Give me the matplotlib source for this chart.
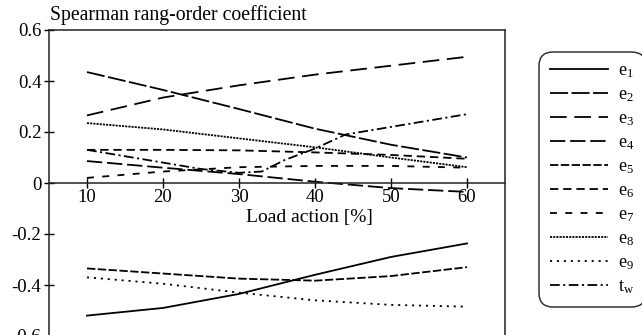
import numpy as np
import matplotlib
matplotlib.use('Agg')
import matplotlib.pyplot as plt

plt.rcParams['font.family'] = ['Liberation Serif', 'DejaVu Serif']
plt.rcParams['mathtext.fontset'] = 'custom'
plt.rcParams['mathtext.rm'] = 'Liberation Serif'
plt.rcParams['mathtext.it'] = 'Liberation Serif'
plt.rcParams['axes.unicode_minus'] = False
plt.rcParams['lines.scale_dashes'] = False

# load action [%]
load = [10, 20, 30, 40, 50, 60]
load_tw = [10, 20, 25, 30, 33, 36, 40, 44, 50, 55, 60]

# Spearman coefficients
e1 = [-0.52, -0.49, -0.435, -0.36, -0.29, -0.237]
e2 = [0.435, 0.365, 0.29, 0.213, 0.15, 0.10]
e3 = [0.265, 0.335, 0.383, 0.425, 0.46, 0.495]
e4 = [0.086, 0.06, 0.035, 0.005, -0.02, -0.035]
e5 = [-0.335, -0.355, -0.375, -0.383, -0.365, -0.33]
e6 = [0.13, 0.13, 0.128, 0.12, 0.11, 0.095]
e7 = [0.02, 0.045, 0.062, 0.067, 0.067, 0.06]
e8 = [0.235, 0.21, 0.175, 0.14, 0.10, 0.062]
e9 = [-0.37, -0.395, -0.43, -0.46, -0.478, -0.485]
tw = [0.13, 0.08, 0.055, 0.04, 0.045, 0.09, 0.135, 0.19, 0.22, 0.245, 0.27]

labels = ['e$_1$', 'e$_2$', 'e$_3$', 'e$_4$', 'e$_5$', 'e$_6$', 'e$_7$', 'e$_8$', 'e$_9$', 't$_\\mathrm{w}$']
ytick_vals = [-0.6, -0.4, -0.2, 0, 0.2, 0.4, 0.6]
ytick_labels = ['-0.6', '-0.4', '-0.2', '0', '0.2', '0.4', '0.6']
xtick_vals = [10, 20, 30, 40, 50, 60]

# dash patterns (points)
styles = [
    '-',
    (0, (13, 2.5)),
    (0, (12, 5.5)),
    (0, (11, 3.5)),
    (0, (6, 1.8)),
    (0, (6, 3.5)),
    (0, (5, 6)),
    (0, (1.5, 0.8)),
    (0, (1.5, 3.5)),
    (0, (7, 2.5, 1.5, 2.5)),
]

fig = plt.figure(figsize=(6.42, 3.35), dpi=100)
ax = fig.add_axes([49 / 642, -1 / 335, 456 / 642, 306 / 335])

series = [e1, e2, e3, e4, e5, e6, e7, e8, e9]
for s, ls, lab in zip(series, styles[:9], labels[:9]):
    ax.plot(load, s, color='black', lw=1.3, linestyle=ls, label=lab)
ax.plot(load_tw, tw, color='black', lw=1.3, linestyle=styles[9], label=labels[9])

ax.set_xlim(5, 65)
ax.set_ylim(-0.6, 0.6)
ax.spines['bottom'].set_position(('data', 0))
for sp in ax.spines.values():
    sp.set_linewidth(1.1)
    sp.set_color('#222222')

ax.set_xticks(xtick_vals)
ax.set_xticklabels([str(v) for v in xtick_vals])
ax.set_yticks(ytick_vals)
ax.set_yticklabels(ytick_labels)
ax.tick_params(direction='inout', length=7, width=1.0, labelsize=13.5, pad=2)
ax.tick_params(axis='x', pad=1)

ax.text(39.3, -0.137, 'Load action [%]', fontsize=14, ha='center', va='center')
fig.text(50 / 642, 1 - 15 / 335, 'Spearman rang-order coefficient', fontsize=14.2,
         ha='left', va='center')

leg = fig.legend(loc='center', bbox_to_anchor=(0.9226, 0.4642), fontsize=13,
                 handlelength=3.2, handletextpad=0.6, labelspacing=0.35,
                 borderpad=0.6, fancybox=True, frameon=True)
leg.get_frame().set_edgecolor('black')
leg.get_frame().set_linewidth(1.1)
leg.get_frame().set_boxstyle('round', pad=0, rounding_size=0.8)

fig.savefig('out.png', dpi=100)
